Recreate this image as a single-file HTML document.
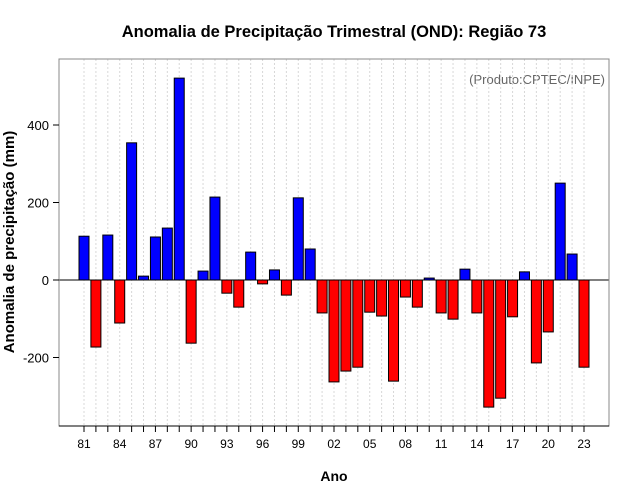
<!DOCTYPE html>
<html><head><meta charset="utf-8"><style>
body{margin:0;background:#fff;}
svg{display:block;font-family:"Liberation Sans",sans-serif;}
</style></head><body>
<svg id="chart" width="640" height="500">
<text x="334" y="37" text-anchor="middle" font-size="16.5" font-weight="bold">Anomalia de Precipitação Trimestral (OND): Região 73</text>
<text x="605" y="84" text-anchor="end" font-size="13" fill="#666">(Produto:CPTEC/INPE)</text>
<text x="334" y="481" text-anchor="middle" font-size="14" font-weight="bold">Ano</text>
<text transform="translate(14,242) rotate(-90)" text-anchor="middle" font-size="15" font-weight="bold">Anomalia de precipitação (mm)</text>
<g id="grid"></g><g id="bars"></g><g id="axes"></g>
</svg>
<script>
const years=[81,82,83,84,85,86,87,88,89,90,91,92,93,94,95,96,97,98,99,0,1,2,3,4,5,6,7,8,9,10,11,12,13,14,15,16,17,18,19,20,21,22,23];
const values=[113,-173,116,-111,354,10,111,134,521,-163,23,214,-34,-70,72,-10,26,-39,212,80,-85,-263,-235,-225,-83,-93,-261,-44,-70,5,-85,-101,28,-85,-328,-305,-95,21,-214,-134,250,67,-225];
const yTicks=[-200,0,200,400];
const NS='http://www.w3.org/2000/svg';
const L=59,R=609,T=59,B=426;
const xs=i=>84+i*(500/42);
const ys=v=>280-v*0.3875;
function mk(tag,attrs,parent){const e=document.createElementNS(NS,tag);for(const k in attrs)e.setAttribute(k,attrs[k]);document.getElementById(parent).appendChild(e);return e;}
years.forEach((y,i)=>{
  const g=mk('line',{x1:xs(i),x2:xs(i),y1:T,y2:B,stroke:'#d8d8d8','stroke-dasharray':'2,2'},'grid');
  
  
  const v=values[i];
  const r=mk('rect',{x:xs(i)-5,width:10,y:Math.min(ys(v),ys(0)),height:Math.abs(ys(v)-ys(0)),fill:v>=0?'#0000ff':'#ff0000',stroke:'#000','stroke-width':1},'bars');
  
  
  const t=mk('line',{x1:xs(i),x2:xs(i),y1:B,y2:B+6,stroke:'#000'},'axes');
  
  
  if(i%3===0){
    const lb=mk('text',{x:xs(i),y:B+22,'text-anchor':'middle','font-size':12},'axes');
    lb.textContent=String(y).padStart(2,'0');
    
    
  }
});
const z=mk('line',{x1:L,x2:R,y1:ys(0),y2:ys(0),stroke:'#000'},'axes');


const box=mk('rect',{x:L,y:T,width:R-L,height:B-T,fill:'none',stroke:'#888'},'axes');


const xa=mk('line',{x1:L,x2:R,y1:B,y2:B,stroke:'#000'},'axes');


yTicks.forEach(v=>{
  const t=mk('line',{x1:L-6,x2:L,y1:ys(v),y2:ys(v),stroke:'#000'},'axes');
  
  
  const lb=mk('text',{x:L-10,y:ys(v)+5,'text-anchor':'end','font-size':13},'axes');
  lb.textContent=v;
  
  
});
</script>
</body></html>
